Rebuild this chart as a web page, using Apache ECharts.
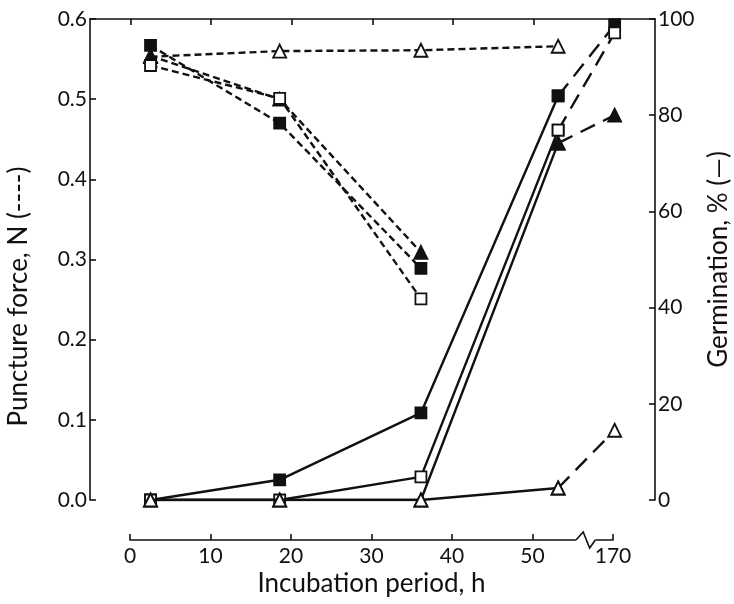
<!DOCTYPE html>
<html>
<head>
<meta charset="utf-8">
<script src="https://cdn.jsdelivr.net/npm/echarts@6/dist/echarts.min.js"></script>
<style>
  html, body { margin: 0; padding: 0; background: #fff; }
  #chart { width: 734px; height: 604px; }
</style>
</head>
<body>
<div id="chart"></div>
<script>
// incubation times (h); the axis is broken after ~55 h and 170 h sits at the 60 slot
const hours = [2.5, 18.5, 36, 53, 170]
const breakShift = 110
const xTickValues = [0, 10, 20, 30, 40, 50, 60]
const xTickLabels = ['0', '10', '20', '30', '40', '50', '170']

// puncture force, N (dashed, left axis)
const forceOpenTri = [0.553, 0.560, 0.561, 0.566, null]
const forceFilledSq = [0.567, 0.470, 0.289, null, null]
const forceOpenSq = [0.542, 0.501, 0.251, null, null]
const forceFilledTri = [0.554, 0.500, 0.309, null, null]

// germination, % (solid, right axis; last leg dashed across the break)
const germFilledSq = [0, 4.2, 18.1, 84.0, 98.8]
const germOpenSq = [0, 0, 4.8, 76.9, 97.1]
const germFilledTri = [0, 0, 0, 74.2, 80.0]
const germOpenTri = [0, 0, 0, 2.5, 14.5]

const FONT = 'Lato'
const INK = '#111'

function pos (h) {
  return h > 100 ? h - breakShift : h
}

function pts (vals, from, to) {
  let out = []
  for (let i = from; i <= to; i++) {
    if (vals[i] != null) out.push([pos(hours[i]), vals[i]])
  }
  return out
}

const marks = {
  filledSq: { symbol: 'rect', size: 11, fill: INK },
  openSq: { symbol: 'rect', size: 11, fill: '#fff' },
  filledTri: { symbol: 'triangle', size: 13, fill: INK },
  openTri: { symbol: 'triangle', size: 13, fill: '#fff' }
}

function line (vals, from, to, mark, yIdx, dash, z) {
  let m = marks[mark]
  return {
    type: 'line',
    xAxisIndex: 0,
    yAxisIndex: yIdx,
    data: pts(vals, from, to),
    symbol: m.symbol,
    symbolSize: m.size,
    showSymbol: true,
    itemStyle: { color: m.fill, borderColor: INK, borderWidth: 1.8 },
    lineStyle: { color: INK, width: 2.4, type: dash },
    z: z,
    animation: false,
    silent: true
  }
}

const forceDash = [7, 4]
const breakDash = [16, 9]

let series = [
  line(forceOpenTri, 0, 3, 'openTri', 0, forceDash, 3),
  line(forceFilledTri, 0, 2, 'filledTri', 0, forceDash, 3),
  line(forceFilledSq, 0, 2, 'filledSq', 0, forceDash, 5),
  line(forceOpenSq, 0, 2, 'openSq', 0, forceDash, 4),

  line(germOpenTri, 0, 3, 'openTri', 1, 'solid', 6),
  line(germOpenTri, 3, 4, 'openTri', 1, breakDash, 6),
  line(germFilledTri, 0, 3, 'filledTri', 1, 'solid', 5),
  line(germFilledTri, 3, 4, 'filledTri', 1, breakDash, 5),
  line(germOpenSq, 0, 3, 'openSq', 1, 'solid', 4),
  line(germOpenSq, 3, 4, 'openSq', 1, breakDash, 4),
  line(germFilledSq, 0, 3, 'filledSq', 1, 'solid', 3),
  line(germFilledSq, 3, 4, 'filledSq', 1, breakDash, 3)
]

const axisLine = { show: true, onZero: false, lineStyle: { color: INK, width: 1.6 } }
const axisTick = { show: true, inside: true, length: 6, lineStyle: { color: INK, width: 1.6 } }
const labelStyle = { color: INK, fontFamily: FONT, fontSize: 21 }
const nameStyle = { color: INK, fontFamily: FONT, fontSize: 26 }

let option = {
  backgroundColor: '#fff',
  animation: false,
  grid: [
    { left: 90, right: 79, top: 19, bottom: 104, outerBoundsMode: 'none' },
    { left: 130, right: 121, top: 539, height: 1, outerBoundsMode: 'none' }
  ],
  xAxis: [
    { gridIndex: 0, type: 'value', min: -5, max: 65, show: false },
    {
      gridIndex: 0,
      type: 'value',
      position: 'top',
      min: -5,
      max: 65,
      axisLine: axisLine,
      axisTick: Object.assign({}, axisTick, { customValues: [0, 10, 20, 30, 40, 50] }),
      axisLabel: { show: false },
      splitLine: { show: false }
    },
    {
      gridIndex: 1,
      type: 'value',
      position: 'bottom',
      min: 0,
      max: 60,
      interval: 10,
      axisLine: axisLine,
      axisTick: axisTick,
      axisLabel: Object.assign({}, labelStyle, {
        margin: 6,
        formatter: v => xTickLabels[xTickValues.indexOf(v)]
      }),
      splitLine: { show: false },
      name: 'Incubation period, h',
      nameLocation: 'middle',
      nameGap: 31,
      nameTextStyle: nameStyle
    }
  ],
  yAxis: [
    {
      gridIndex: 0,
      type: 'value',
      position: 'left',
      min: 0,
      max: 0.6,
      interval: 0.1,
      axisLine: axisLine,
      axisTick: axisTick,
      axisLabel: Object.assign({}, labelStyle, { margin: 3, formatter: v => v.toFixed(1) }),
      splitLine: { show: false },
      name: 'Puncture force, N (----)',
      nameLocation: 'middle',
      nameRotate: 90,
      nameGap: 58,
      nameTextStyle: Object.assign({}, nameStyle, { padding: [0, 74, 0, 0] })
    },
    {
      gridIndex: 0,
      type: 'value',
      position: 'right',
      min: 0,
      max: 100,
      interval: 20,
      axisLine: axisLine,
      axisTick: axisTick,
      axisLabel: Object.assign({}, labelStyle, { margin: 3 }),
      splitLine: { show: false },
      name: 'Germination, % (—)',
      nameLocation: 'middle',
      nameRotate: 90,
      nameGap: 50,
      nameTextStyle: nameStyle
    },
    { gridIndex: 1, type: 'value', min: 0, max: 1, show: false }
  ],
  series: series
}

let chart = echarts.init(document.getElementById('chart'), null, { renderer: 'canvas' })
chart.setOption(option)

// zigzag break mark on the x axis
let a = chart.convertToPixel({ gridIndex: 1 }, [55.4, 0])
let b = chart.convertToPixel({ gridIndex: 1 }, [56.3, 0])
let c = chart.convertToPixel({ gridIndex: 1 }, [57.1, 0])
let d = chart.convertToPixel({ gridIndex: 1 }, [57.8, 0])
chart.setOption({
  graphic: [
    {
      type: 'rect',
      z: 100,
      shape: { x: a[0], y: a[1] - 3, width: d[0] - a[0], height: 6 },
      style: { fill: '#fff' }
    },
    {
      type: 'polyline',
      z: 101,
      shape: { points: [a, [b[0], b[1] - 8], [c[0], c[1] + 8], d] },
      style: { stroke: INK, lineWidth: 1.6, fill: null }
    }
  ]
})
</script>
</body>
</html>
